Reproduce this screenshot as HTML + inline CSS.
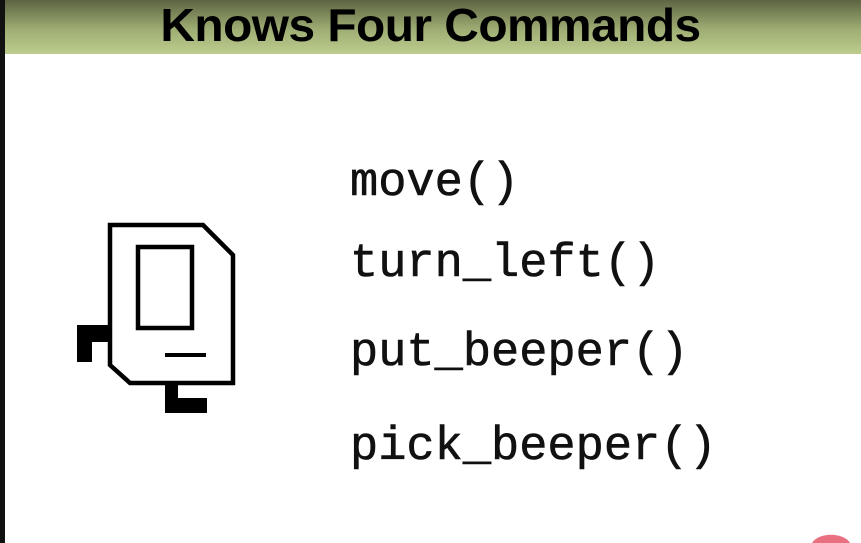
<!DOCTYPE html>
<html><head><style>
html,body{margin:0;width:861px;height:543px;overflow:hidden;background:#fff;position:relative;font-family:"Liberation Sans",sans-serif}
#hdr{position:absolute;left:0;top:0;width:861px;height:54px;background:linear-gradient(#5d6442,#9fae74 55%,#bccd8e)}
#hdr div{position:absolute;left:0;width:861px;top:-2px;text-align:center;font-weight:bold;font-size:46px;color:#000;letter-spacing:-0.5px;transform:scaleX(1.04)}
.l{position:absolute;left:0;top:0;width:5px;height:543px;background:#111}
.c{position:absolute;left:350px;font-family:"Liberation Mono",monospace;font-size:47px;color:#111;line-height:1;-webkit-text-stroke:0.6px #111}
</style></head><body>
<div id="hdr"><div>Knows Four Commands</div></div>
<div class="l"></div>
<div class="c" style="top:160px">move()</div>
<div class="c" style="top:241px">turn_left()</div>
<div class="c" style="top:330px">put_beeper()</div>
<div class="c" style="top:424px">pick_beeper()</div>
<svg style="position:absolute;left:0;top:0;overflow:hidden" width="861" height="543">
<polygon points="110,225 203,225 233,255 233,383 130,383 110,365" fill="none" stroke="#000" stroke-width="4.5"/>
<rect x="138" y="247" width="54" height="81" fill="none" stroke="#000" stroke-width="4.5"/>
<rect x="165" y="353" width="41" height="4" fill="#000"/>
<path d="M77,325H110V342H92V362H77Z" fill="#000"/>
<path d="M165,383H178V398H207V413H165Z" fill="#000"/>
<path d="M812,543A20,12 0 0 1 850,543Z" fill="#e87080"/>
</svg>
</body></html>
